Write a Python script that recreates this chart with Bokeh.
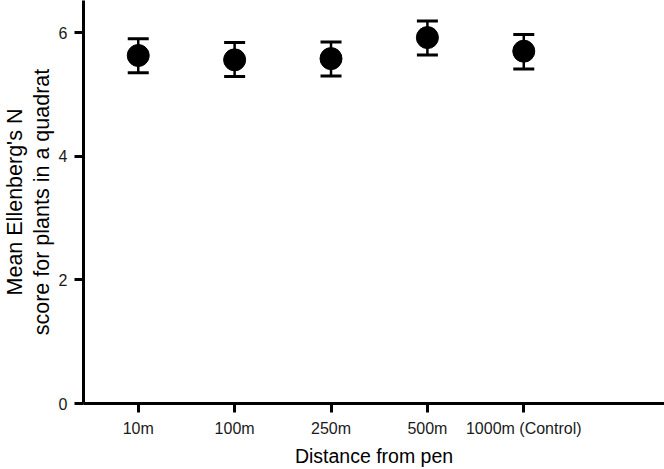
from bokeh.plotting import figure
from bokeh.models import Range1d, FixedTicker, Whisker, TeeHead, ColumnDataSource, Title
from bokeh.embed import file_html
from bokeh.resources import INLINE

categories = ["10m", "100m", "250m", "500m", "1000m (Control)"]
means = [5.63, 5.56, 5.58, 5.92, 5.70]
upper = [5.90, 5.84, 5.85, 6.19, 5.97]
lower = [5.35, 5.29, 5.30, 5.64, 5.41]
y_ticks = [0, 2, 4, 6]
y_label_lines = ["Mean Ellenberg's N", "score for plants in a quadrat"]

xpos = list(range(1, len(categories) + 1))
src = ColumnDataSource(dict(x=xpos, y=means, upper=upper, lower=lower))

FONT = "Liberation Sans"

p = figure(width=664, height=469, output_backend="svg", toolbar_location=None,
           x_range=Range1d(0.432, 6.46), y_range=Range1d(0, 6.52),
           min_border_left=0, min_border_right=0, min_border_top=0, min_border_bottom=0)
p.outline_line_color = None
p.grid.grid_line_color = None
p.background_fill_color = "white"
p.border_fill_color = "white"

w = Whisker(base="x", upper="upper", lower="lower", source=src,
            line_color="black", line_width=2.5,
            upper_head=TeeHead(size=21, line_width=3, line_color="black"),
            lower_head=TeeHead(size=21, line_width=3, line_color="black"))
p.add_layout(w)
p.scatter("x", "y", source=src, size=22, color="black")

p.xaxis.ticker = FixedTicker(ticks=xpos)
p.xaxis.major_label_overrides = {i: c for i, c in zip(xpos, categories)}
p.yaxis.ticker = FixedTicker(ticks=y_ticks)

for ax in (p.xaxis, p.yaxis):
    ax.axis_line_width = 3
    ax.major_tick_line_width = 3
    ax.major_tick_out = 9
    ax.major_tick_in = 0
    ax.minor_tick_line_color = None
    ax.major_label_text_font = FONT
    ax.major_label_text_font_size = "16px"
    ax.major_label_text_color = "#1a1a1a"
    ax.axis_label_text_font = FONT
    ax.axis_label_text_font_size = "19.5px"
    ax.axis_label_text_font_style = "normal"
    ax.axis_label_text_color = "black"

p.xaxis.axis_label = "Distance from pen"
p.xaxis.major_label_standoff = 7
p.yaxis.major_label_standoff = 7
p.xaxis.axis_label_standoff = 5

for txt, stand in ((y_label_lines[1], 3), (y_label_lines[0], 0)):
    t = Title(text=txt, align="center", text_font=FONT, text_font_size="21.5px",
              text_font_style="normal", text_color="black", standoff=stand,
              text_line_height=1.0)
    p.add_layout(t, "left")

open("out.html", "w").write(file_html(p, INLINE))
